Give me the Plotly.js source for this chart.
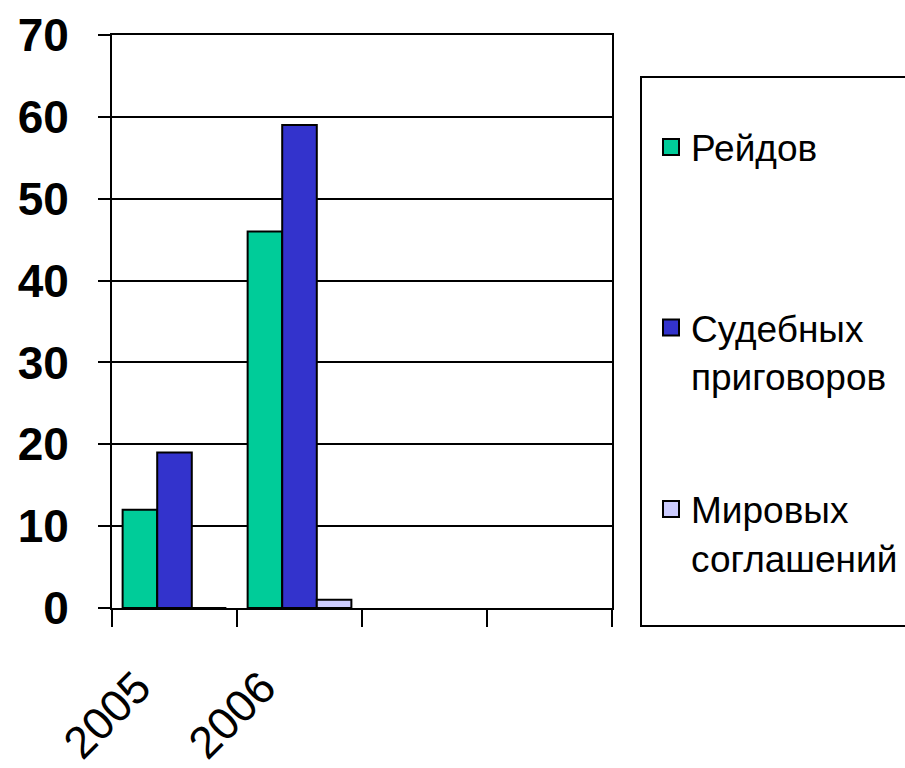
<!DOCTYPE html>
<html>
<head>
<meta charset="utf-8">
<script src="https://cdn.plot.ly/plotly-3.0.1.min.js"></script>
<style>
html,body{margin:0;padding:0;background:#fff;}
#chart{width:905px;height:768px;}
</style>
</head>
<body>
<div id="chart"></div>
<script>
const categories = ['2005', '2006', ' ', '  '];
const years = ['2005', '2006'];
const raids = [12, 46];
const verdicts = [19, 59];
const settlements = [0, 1];
const seriesNames = ['Рейдов', 'Судебных<br>приговоров', 'Мировых<br>соглашений'];
const seriesColors = ['#00CC99', '#3333CC', '#CCCCFF'];
const yTicks = [0, 10, 20, 30, 40, 50, 60, 70];

const seriesValues = [raids, verdicts, settlements];
const legendIds = ['legend', 'legend2', 'legend3'];

const barTraces = seriesValues.map((vals, i) => ({
  type: 'bar',
  x: years,
  y: vals,
  name: seriesNames[i],
  showlegend: false,
  marker: { color: seriesColors[i], line: { color: '#000', width: 2 } },
  hoverinfo: 'none'
}));

// legend entries (no data), drawn with larger square swatches
const legendTraces = seriesNames.map((nm, i) => ({
  type: 'scatter', mode: 'markers',
  x: [null], y: [null],
  name: nm,
  legend: legendIds[i],
  showlegend: true,
  marker: { symbol: 'square', size: 16, color: seriesColors[i], line: { color: '#000', width: 2 } },
  hoverinfo: 'none'
}));

const legendFont = { family: 'Liberation Sans, Arial, sans-serif', size: 37, color: '#000' };
function mkLegend(y) {
  return {
    x: 1.078, xref: 'paper', xanchor: 'left',
    y: y, yref: 'paper', yanchor: 'top',
    bgcolor: 'rgba(0,0,0,0)', borderwidth: 0,
    font: legendFont, valign: 'top', itemsizing: 'trace'
  };
}

const layout = {
  width: 905, height: 768,
  margin: { l: 112, r: 293, t: 35, b: 160, pad: 0, autoexpand: false },
  paper_bgcolor: '#fff', plot_bgcolor: '#fff',
  barmode: 'group', bargap: 0.17, bargroupgap: 0,
  showlegend: true,
  legend: mkLegend(0.858),
  legend2: mkLegend(0.543),
  legend3: mkLegend(0.226),
  xaxis: {
    type: 'category',
    categoryorder: 'array', categoryarray: categories,
    range: [-0.5, 3.5],
    tickson: 'boundaries',
    ticks: 'outside', ticklen: 17, tickwidth: 2, tickcolor: '#000',
    showline: true, linecolor: '#000', linewidth: 2, mirror: true,
    showgrid: false, zeroline: false,
    tickangle: -45,
    ticklabelshift: -37, ticklabelstandoff: 33,
    tickfont: { family: 'Liberation Sans, Arial, sans-serif', size: 45, color: '#000' },
    automargin: false, fixedrange: true
  },
  yaxis: {
    range: [0, 70],
    tickvals: yTicks,
    ticks: 'outside', ticklen: 12, tickwidth: 2, tickcolor: '#000',
    showline: true, linecolor: '#000', linewidth: 2, mirror: true,
    showgrid: true, gridcolor: '#000', gridwidth: 2,
    zeroline: false,
    ticklabelstandoff: 20,
    tickfont: { family: 'Liberation Sans, Arial, sans-serif', size: 46, color: '#000', weight: 'bold' },
    automargin: false, fixedrange: true
  },
  shapes: [{
    type: 'rect', xref: 'paper', yref: 'paper',
    x0: 1.058, x1: 1.62, y0: -0.0314, y1: 0.9267,
    line: { color: '#000', width: 2 }, fillcolor: 'rgba(0,0,0,0)'
  }]
};

Plotly.newPlot('chart', barTraces.concat(legendTraces), layout, { staticPlot: true, displayModeBar: false });
</script>
</body>
</html>
